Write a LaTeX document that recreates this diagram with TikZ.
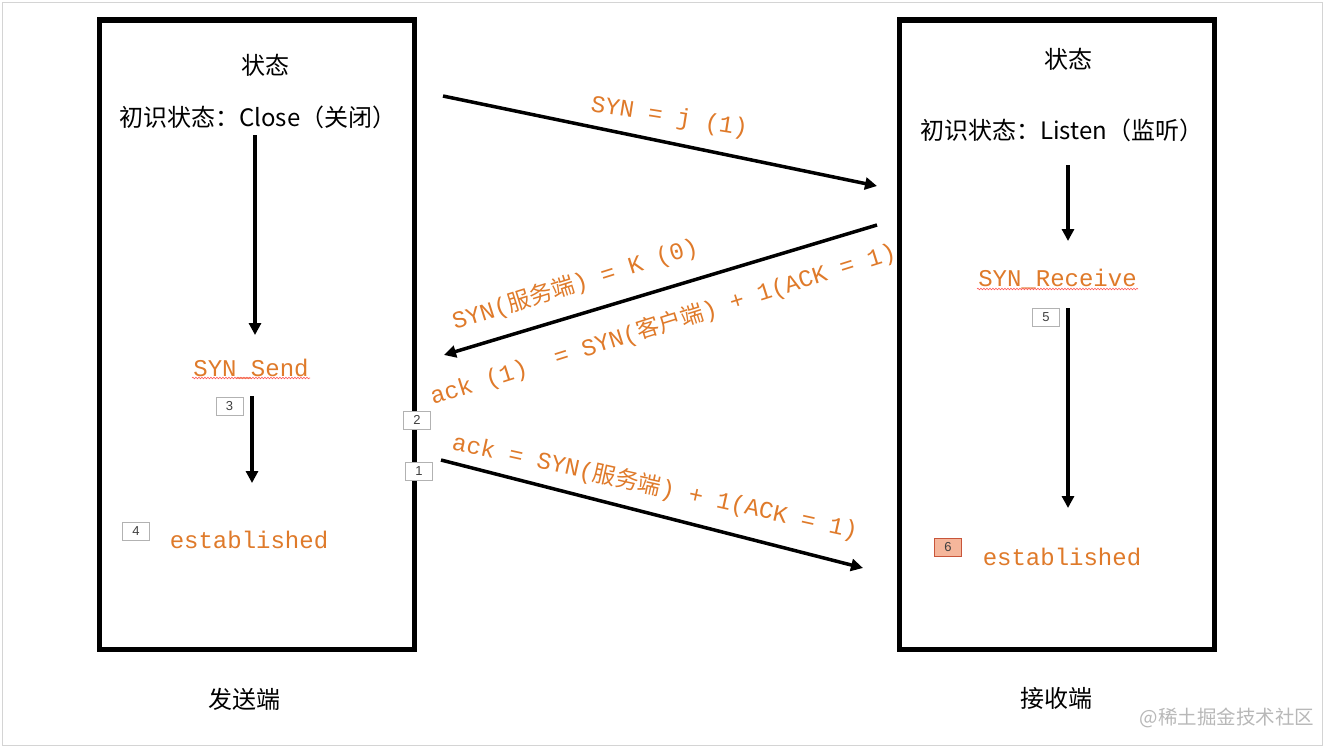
\documentclass[tikz,border=0pt]{standalone}
\usepackage{fontspec}
\setmainfont{Noto Sans CJK SC}
\newfontfamily\cjk{Noto Sans CJK SC}
\newfontfamily\mono{Liberation Mono}
\newfontfamily\numf{Liberation Sans}
\usetikzlibrary{arrows.meta,decorations.pathmorphing}
\definecolor{lbl}{HTML}{DF7A2A}
\definecolor{frame}{HTML}{D4D4D4}
\definecolor{wm}{HTML}{B8B8B8}
\definecolor{sixfill}{HTML}{F5B69B}
\definecolor{sixdraw}{HTML}{C8553A}
\newcommand\zh[1]{{\cjk\fontsize{23}{28}\selectfont #1}}
\begin{document}
\begin{tikzpicture}[x=1pt,y=-1pt,
  zhtext/.style={inner sep=0pt, font=\cjk\fontsize{24}{28}\selectfont},
  monotext/.style={inner sep=0pt, text=lbl, font=\mono\fontsize{24}{28}\selectfont},
  sidebox/.style={draw, line width=5.5pt, fill=white},
  arr/.style={line width=3.5pt, -{Triangle[length=12pt,width=12pt]}},
  numbox/.style={draw=gray!60, line width=0.8pt, fill=white, minimum width=27pt, minimum height=18pt, inner sep=0pt, text=black!75, font=\numf\fontsize{13}{13}\selectfont},
  wavy/.style={draw=red!65, line width=0.6pt, decorate, decoration={snake, amplitude=0.8pt, segment length=3pt}}]
\useasboundingbox (0,0) rectangle (1328,748);
% slide frame
\draw[frame, line width=1pt] (2,2) rectangle (1322,745);

% diagonal labels (drawn first, covered by the boxes)
\node[monotext, anchor=base west, rotate=-9] (l1) at (590,111) {SYN = j (1)};
\node[monotext, anchor=base west, rotate=17.5] (l2a) at (455,330) {SYN(\zh{服务端}) = K (0)};
\node[monotext, anchor=base west, rotate=17.5] (l2b) at (433,405) {ack (1)\ \ = SYN(\zh{客户端}) + 1(ACK = 1)};
\node[monotext, anchor=base west, rotate=-12.5] (l3) at (451,449) {ack = SYN(\zh{服务端}) + 1(ACK = 1)};

% side boxes
\draw[sidebox] (99.5,20) rectangle (414.5,649.5);
\draw[sidebox] (899.5,20) rectangle (1214.5,649.5);

% left box contents
\node[zhtext] (st1) at (265,65) {状态};
\node[zhtext, anchor=west] (init1) at (119,117.5) {初识状态：Close（关闭）};
\node[monotext, anchor=base] (ss) at (251,376) {SYN\_Send};
\node[monotext, anchor=base] (est1) at (249,548) {established};
\path[wavy] (192,378) -- (310,378);

% right box contents
\node[zhtext] (st2) at (1068,59) {状态};
\node[zhtext, anchor=west] (init2) at (920,130) {初识状态：Listen（监听）};
\node[monotext, anchor=base] (sr) at (1057.5,286) {SYN\_Receive};
\node[monotext, anchor=base] (est2) at (1062,565) {established};
\path[wavy] (977,289) -- (1138,289);

% bottom captions
\node[zhtext] (snd) at (244.5,699) {发送端};
\node[zhtext] (rcv) at (1056,698.5) {接收端};
\node[inner sep=0pt, text=wm, font=\cjk\fontsize{19.5}{22}\selectfont] (wmk) at (1227,718) {@稀土掘金技术社区};

% arrow end points
\coordinate (a1s) at (255,135);  \coordinate (a1e) at (255,335);
\coordinate (a2s) at (252,396);  \coordinate (a2e) at (252,483);
\coordinate (a3s) at (1068,165); \coordinate (a3e) at (1068,241);
\coordinate (a4s) at (1068,308); \coordinate (a4e) at (1068,508);
\coordinate (d1s) at (443,96);   \coordinate (d1e) at (877,186);
\coordinate (d2s) at (877,225);  \coordinate (d2e) at (444,355);
\coordinate (d3s) at (441,460);  \coordinate (d3e) at (863,568);

\draw[arr] (a1s) -- (a1e);
\draw[arr] (a2s) -- (a2e);
\draw[arr] (a3s) -- (a3e);
\draw[arr] (a4s) -- (a4e);
\draw[arr] (d1s) -- (d1e);
\draw[arr] (d2s) -- (d2e);
\draw[arr] (d3s) -- (d3e);

% number markers
\node[numbox] (n1) at (419,471) {1};
\node[numbox] (n2) at (417,420) {2};
\node[numbox] (n3) at (229.5,406) {3};
\node[numbox] (n4) at (136,531) {4};
\node[numbox] (n5) at (1046,317.5) {5};
\node[numbox, fill=sixfill, draw=sixdraw] (n6) at (948,547.5) {6};
\end{tikzpicture}
\end{document}
